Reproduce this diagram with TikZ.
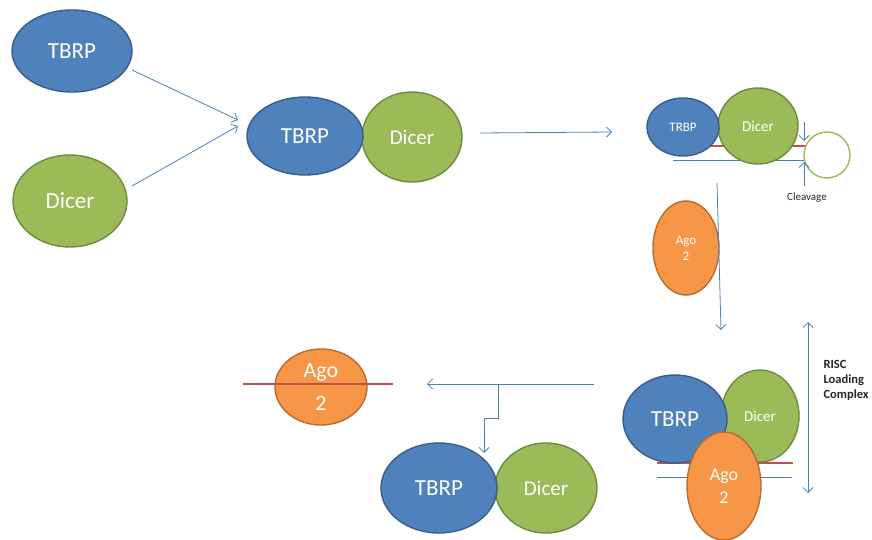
\documentclass[tikz,border=0pt]{standalone}
\usepackage{fontspec}
\setmainfont{Carlito}
\usetikzlibrary{shapes.geometric,arrows.meta}
\definecolor{bfill}{HTML}{4F81BD}
\definecolor{bdraw}{HTML}{385D8A}
\definecolor{gfill}{HTML}{9BBB59}
\definecolor{gdraw}{HTML}{71893F}
\definecolor{ofill}{HTML}{F79646}
\definecolor{odraw}{HTML}{B66D31}
\definecolor{acol}{HTML}{4A7EBB}
\definecolor{rcol}{HTML}{C0504D}
\definecolor{tcol}{HTML}{262626}
\begin{document}
\begin{tikzpicture}[x=1pt,y=-1pt,
  blob/.style={ellipse, draw, line width=1.4pt, inner sep=0pt, text=white, align=center},
  tb/.style={blob, fill=bfill, draw=bdraw},
  dc/.style={blob, fill=gfill, draw=gdraw},
  ag/.style={blob, fill=ofill, draw=odraw},
  arr/.style={draw=acol, line width=0.8pt, -{Straight Barb[length=5pt,width=10pt]}},
  darr/.style={draw=acol, line width=0.8pt, {Straight Barb[length=5pt,width=10pt]}-{Straight Barb[length=5pt,width=10pt]}},
  fs/.style={font=\fontsize{#1}{#1}\selectfont},
  rline/.style={draw=rcol, line width=2.8pt},
  bline/.style={draw=acol, line width=0.9pt}]
\useasboundingbox (0,0) rectangle (872,540);

% left components
\node[tb, minimum width=120, minimum height=82, fs=23] (tb1) at (72,51) {TBRP};
\node[dc, minimum width=114, minimum height=92, fs=23] (dc1) at (70,201) {Dicer};

% middle complex
\node[dc, minimum width=100, minimum height=90, fs=21] (dc2) at (412,137) {Dicer};
\node[tb, minimum width=116, minimum height=78, fs=23] (tb2) at (305,136) {TBRP};

\coordinate (a1s) at (132,70);
\coordinate (a2s) at (132,186);
\coordinate (a1e) at (238,120);
\coordinate (a2e) at (238,126);
\draw[arr] (a1s) -- (a1e);
\draw[arr] (a2s) -- (a2e);

\coordinate (a3s) at (480,133);
\coordinate (a3e) at (612,132);
\draw[arr] (a3s) -- (a3e);

% top right complex
\coordinate (r1a) at (700,146);
\coordinate (r1b) at (807,146);
\draw[rline] (r1a) -- (r1b);
\coordinate (b1a) at (673,160);
\coordinate (b1b) at (804,160);
\draw[bline] (b1a) -- (b1b);
\node[dc, minimum width=80, minimum height=76, fs=15] (dc3) at (758,126) {Dicer};
\node[tb, minimum width=72, minimum height=58, fs=13] (tb3) at (683,127) {TRBP};
\node[circle, draw=gfill, fill=white, line width=1.4pt, minimum size=46, inner sep=0pt] (loop) at (827,155) {};
\coordinate (c1s) at (804,122);
\coordinate (c1e) at (804,141);
\coordinate (c2s) at (804,186);
\coordinate (c2e) at (804,162);
\draw[arr] (c1s) -- (c1e);
\draw[arr] (c2s) -- (c2e);
\node[text=tcol, fs=11] (clv) at (807,198) {Cleavage};

% Ago 2 free
\node[ag, minimum width=66, minimum height=94, font=\fontsize{13}{16}\selectfont] (ag1) at (686,248) {Ago\\2};

\coordinate (a4s) at (717,183);
\coordinate (a4e) at (721,330);
\draw[arr] (a4s) -- (a4e);

% bottom right complex
\coordinate (r2a) at (657,463);
\coordinate (r2b) at (793,463);
\draw[rline] (r2a) -- (r2b);
\coordinate (b2a) at (657,477);
\coordinate (b2b) at (792,477);
\draw[bline] (b2a) -- (b2b);
\node[dc, minimum width=78, minimum height=92, fs=15] (dc4) at (760,416) {Dicer};
\node[tb, minimum width=104, minimum height=88, fs=23] (tb4) at (675,419) {TBRP};
\node[ag, minimum width=74, minimum height=108, font=\fontsize{18}{23}\selectfont] (ag4) at (724,486) {Ago\\2};

\coordinate (d1) at (808,322);
\coordinate (d2) at (808,493);
\draw[darr] (d1) -- (d2);
\node[anchor=north west, align=left, text=tcol, font=\bfseries\fontsize{12.5}{15}\selectfont] (risc) at (820,357) {RISC\\Loading\\Complex};

% bottom left products
\node[ag, minimum width=92, minimum height=76, font=\fontsize{22}{33}\selectfont] (ag5) at (321,387) {Ago\\2};
\coordinate (r3a) at (243,384);
\coordinate (r3b) at (393,384);
\draw[rline, line width=2.2pt] (r3a) -- (r3b);

\node[dc, minimum width=102, minimum height=90, fs=21] (dc6) at (546,488) {Dicer};
\node[tb, minimum width=116, minimum height=90, fs=23] (tb6) at (439,488) {TBRP};

\coordinate (h1) at (594,384);
\coordinate (h2) at (427,384);
\draw[arr] (h1) -- (h2);
\coordinate (k1) at (498,384);
\coordinate (k2) at (498,418);
\coordinate (k3) at (484,418);
\coordinate (k4) at (484,453);
\draw[arr] (k1) -- (k2) -- (k3) -- (k4);
\end{tikzpicture}
\end{document}
